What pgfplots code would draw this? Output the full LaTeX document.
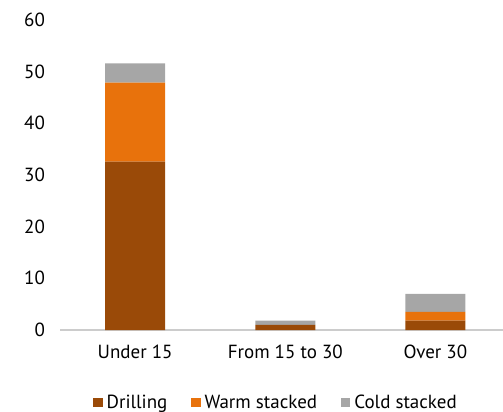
\documentclass[border=0pt]{standalone}
\usepackage{fontspec}
\setmainfont{PT Sans}
\usepackage{pgfplots}
\pgfplotsset{compat=1.18}
\definecolor{drill}{HTML}{9A4A08}
\definecolor{warm}{HTML}{E8720C}
\definecolor{cold}{HTML}{A6A6A6}
\begin{document}
\begin{tikzpicture}
\useasboundingbox (-30pt,-41pt) rectangle (221.5pt,165pt);
\begin{axis}[
  scale only axis,
  width=221.5pt, height=155pt,
  ybar stacked, bar width=30pt,
  xmin=-0.5, xmax=2.45,
  ymin=0, ymax=60,
  ytick={0,10,...,60},
  xtick={0,1,2},
  xticklabels={Under 15, From 15 to 30, Over 30},
  axis x line=bottom, axis y line=left,
  x axis line style={-, draw=black!20, line width=0.6pt},
  y axis line style={draw=none},
  major tick length=0pt,
  tick style={draw=none},
  /pgf/number format/assume math mode=true,
  ticklabel style={font=\fontsize{9.5}{10}\selectfont, text=black},
  yticklabel style={xshift=-4pt},
  xticklabel style={yshift=-4pt},
  legend style={at={(0.49,-0.235)}, anchor=center, draw=none, fill=none,
    font=\fontsize{9.5}{10}\selectfont, text=black, legend columns=3,
    /tikz/every even column/.append style={column sep=10pt}},
  legend image code/.code={\fill[#1] (0pt,-2.3pt) rectangle (4.6pt,2.3pt);},
  enlargelimits=false,
  clip=false,
]
\addplot[fill=drill, draw=none] coordinates {(0,32.6) (1,1) (2,1.8)};
\addlegendentry{Drilling}
\addplot[fill=warm, draw=none] coordinates {(0,15.3) (1,0) (2,1.7)};
\addlegendentry{Warm stacked}
\addplot[fill=cold, draw=none] coordinates {(0,3.7) (1,0.8) (2,3.5)};
\addlegendentry{Cold stacked}
\end{axis}
\end{tikzpicture}
\end{document}
